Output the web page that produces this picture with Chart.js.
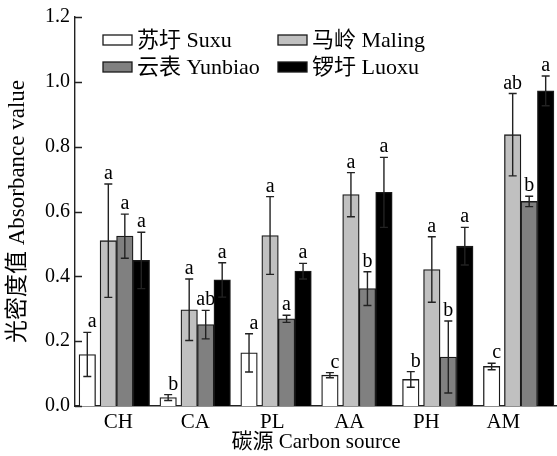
<!DOCTYPE html>
<html>
<head>
<meta charset="utf-8">
<script src="https://cdn.jsdelivr.net/npm/chart.js@4.4.1/dist/chart.umd.min.js"></script>
<style>
  html, body { margin: 0; padding: 0; background: #fff; }
  #wrap { width: 557px; height: 456px; }
</style>
</head>
<body>
<div id="wrap"><canvas id="chart"></canvas></div>
<script>
const categories = ['CH', 'CA', 'PL', 'AA', 'PH', 'AM'];
const seriesNames = ['苏圩 Suxu', '马岭 Maling', '云表 Yunbiao', '锣圩 Luoxu'];

const suxu = [0.159, 0.026, 0.164, 0.095, 0.082, 0.122];
const maling = [0.510, 0.297, 0.526, 0.652, 0.421, 0.837];
const yunbiao = [0.524, 0.251, 0.269, 0.362, 0.151, 0.631];
const luoxu = [0.449, 0.389, 0.416, 0.659, 0.493, 0.972];

const suxuErr = [0.068, 0.009, 0.059, 0.008, 0.024, 0.010];
const malingErr = [0.175, 0.095, 0.120, 0.068, 0.101, 0.127];
const yunbiaoErr = [0.068, 0.044, 0.011, 0.052, 0.111, 0.016];
const luoxuErr = [0.087, 0.053, 0.024, 0.108, 0.058, 0.046];

const suxuSig = ['a', 'b', 'a', 'c', 'b', 'c'];
const malingSig = ['a', 'a', 'a', 'a', 'a', 'ab'];
const yunbiaoSig = ['a', 'ab', 'a', 'b', 'b', 'b'];
const luoxuSig = ['a', 'a', 'a', 'a', 'a', 'a'];

const yTicks = [0, 0.2, 0.4, 0.6, 0.8, 1.0, 1.2];

const values = [suxu, maling, yunbiao, luoxu];
const errors = [suxuErr, malingErr, yunbiaoErr, luoxuErr];
const letters = [suxuSig, malingSig, yunbiaoSig, luoxuSig];

// bar placement inside a category (fraction of category width)
const shift = [-0.328, -0.068, 0.136, 0.340];
// category labels sit a little left of the bar groups in the original
const labelStart = 0.056, labelStep = 0.952;
const fills = ['#ffffff', '#c0c0c0', '#808080', '#000000'];
const serif = '"Liberation Serif", "Times New Roman", "Noto Sans CJK SC", serif';

const datasets = values.map((vals, s) => ({
  label: seriesNames[s],
  data: vals.map((v, i) => ({ x: i + shift[s], y: v })),
  backgroundColor: fills[s],
  borderColor: '#1a1a1a',
  borderWidth: 1.3,
  borderSkipped: 'bottom',
  barThickness: 16.5,
  grouped: false
}));

const extras = {
  id: 'extras',
  afterDatasetsDraw(chart) {
    const { ctx, scales: { y } } = chart;
    ctx.save();
    ctx.strokeStyle = '#222';
    ctx.lineWidth = 1.4;
    ctx.fillStyle = '#000';
    ctx.font = '20px ' + serif;
    ctx.textAlign = 'center';
    ctx.textBaseline = 'alphabetic';
    chart.data.datasets.forEach((ds, s) => {
      chart.getDatasetMeta(s).data.forEach((bar, i) => {
        const v = values[s][i], e = errors[s][i];
        const top = y.getPixelForValue(v + e);
        const bot = y.getPixelForValue(v - e);
        const cx = bar.x;
        ctx.beginPath();
        ctx.moveTo(cx, top); ctx.lineTo(cx, bot);
        ctx.moveTo(cx - 4, top); ctx.lineTo(cx + 4, top);
        ctx.moveTo(cx - 4, bot); ctx.lineTo(cx + 4, bot);
        ctx.stroke();
        ctx.fillText(letters[s][i], cx + (s === 0 ? 5 : 0), top - 5);
      });
    });
    ctx.restore();
  },
  afterDraw(chart) {
    const { ctx, chartArea, scales: { y } } = chart;
    ctx.save();
    // inward y ticks
    ctx.strokeStyle = '#222';
    ctx.lineWidth = 1.4;
    ctx.beginPath();
    yTicks.forEach(t => {
      const py = Math.round(y.getPixelForValue(t)) + 0.5;
      ctx.moveTo(chartArea.left, py);
      ctx.lineTo(chartArea.left + 7, py);
    });
    ctx.stroke();
    // legend, two rows by two columns
    const cols = [103, 278];
    const rows = [40, 67];
    ctx.font = '22px ' + serif;
    ctx.textBaseline = 'middle';
    ctx.textAlign = 'left';
    seriesNames.forEach((name, s) => {
      const bx = cols[s % 2], by = rows[Math.floor(s / 2)];
      ctx.fillStyle = fills[s];
      ctx.fillRect(bx, by - 5, 29, 10);
      ctx.strokeStyle = '#1a1a1a';
      ctx.lineWidth = 1.3;
      ctx.strokeRect(bx, by - 5, 29, 10);
      ctx.fillStyle = '#000';
      ctx.fillText(name, bx + 34, by + 1);
    });
    ctx.restore();
  }
};

new Chart(document.getElementById('chart'), {
  type: 'bar',
  data: { datasets },
  options: {
    responsive: true,
    maintainAspectRatio: false,
    animation: false,
    layout: { padding: { left: 0, right: 0, top: 16, bottom: 0 } },
    plugins: { legend: { display: false }, tooltip: { enabled: false } },
    scales: {
      x: {
        type: 'linear',
        offset: false,
        min: -0.48,
        max: 5.48,
        afterBuildTicks: s => { s.ticks = categories.map((c, i) => ({ value: labelStart + i * labelStep })); },
        afterFit: s => { s.height = 50; },
        grid: { display: false, drawTicks: false },
        border: { display: true, color: '#222', width: 1.4 },
        ticks: {
          padding: 4,
          color: '#000',
          font: { family: serif, size: 21 },
          maxRotation: 0,
          autoSkip: false,
          callback: (v, i) => categories[i]
        },
        title: {
          display: true,
          text: '碳源 Carbon source',
          color: '#000',
          font: { family: serif, size: 21 },
          padding: { top: 0, bottom: 1 }
        }
      },
      y: {
        min: 0,
        max: 1.2,
        afterBuildTicks: s => { s.ticks = yTicks.map(v => ({ value: v })); },
        afterFit: s => { s.width = 75; },
        grid: { display: false, drawTicks: false },
        border: { display: true, color: '#222', width: 1.4 },
        ticks: {
          padding: 5,
          color: '#000',
          font: { family: serif, size: 20 },
          callback: v => v.toFixed(1)
        },
        title: {
          display: true,
          text: '光密度值 Absorbance value',
          color: '#000',
          font: { family: serif, size: 23 },
          padding: { top: 4, bottom: 0 }
        }
      }
    }
  },
  plugins: [extras]
});
</script>
</body>
</html>
